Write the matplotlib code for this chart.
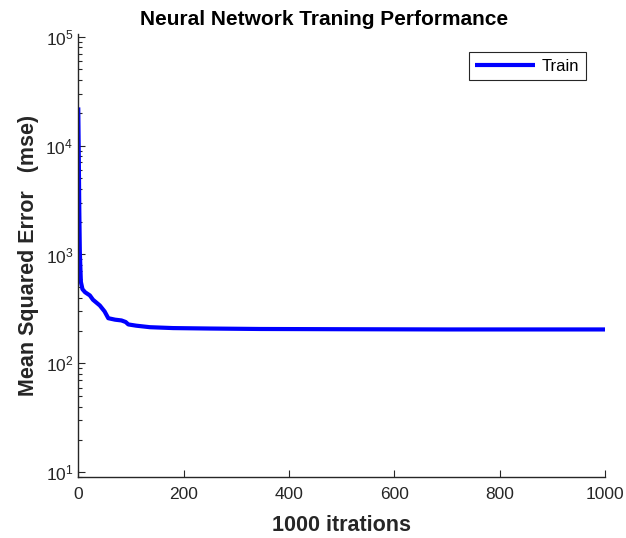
import numpy as np
import matplotlib
matplotlib.use('Agg')
from matplotlib import pyplot as plt
from matplotlib.ticker import LogLocator, FixedLocator

# training curve
iterations = [0, 1, 2, 3, 5, 8, 13, 22, 28, 41, 50, 57, 70, 82, 90, 95, 110, 136, 180, 250, 345, 500, 700, 1000]
mse = [22400, 8000, 2500, 1050, 560, 480, 450, 421, 384, 340, 300, 260, 252, 248, 240, 228, 222, 215, 211, 209, 207, 206, 205, 205]

title = 'Neural Network Traning Performance'
xlabel = '1000 itrations'
ylabel = 'Mean Squared Error   (mse)'
xticks = [0, 200, 400, 600, 800, 1000]

plt.rcParams['font.family'] = ['Liberation Sans', 'DejaVu Sans']
plt.rcParams['mathtext.fontset'] = 'custom'
plt.rcParams['mathtext.rm'] = 'Liberation Sans'

fig = plt.figure(figsize=(6.26, 5.38), dpi=100)
ax = fig.add_axes([0.125, 0.1128, 0.8415, 0.8234])

ax.plot(iterations, mse, color='#0000ff', lw=3, label='Train', solid_capstyle='butt')

ax.set_yscale('log')
ax.set_xlim(0, 1000)
ax.set_ylim(9, 1.05e5)
ax.xaxis.set_major_locator(FixedLocator(xticks))
ax.yaxis.set_major_locator(LogLocator(base=10, numticks=10))
ax.yaxis.set_minor_locator(LogLocator(base=10, subs=np.arange(2, 10), numticks=20))

grey = '#262626'
for side in ['top', 'right']:
    ax.spines[side].set_visible(False)
for side in ['left', 'bottom']:
    ax.spines[side].set_color(grey)
    ax.spines[side].set_linewidth(1.0)
ax.tick_params(which='both', direction='in', colors=grey, labelsize=12.5)
ax.tick_params(which='major', length=5, width=0.8)
ax.tick_params(which='minor', length=3, width=0.8)
ax.tick_params(axis='x', pad=7)

ax.set_title(title, fontsize=15, fontweight='bold', color='black', pad=7, x=0.466)
ax.set_xlabel(xlabel, fontsize=15.5, fontweight='bold', color=grey, labelpad=9)
ax.set_ylabel(ylabel, fontsize=15.5, fontweight='bold', color=grey, labelpad=5)

leg = ax.legend(loc='upper right', bbox_to_anchor=(0.964, 0.96), borderaxespad=0,
                fontsize=12, fancybox=False, framealpha=1, edgecolor=grey,
                handlelength=3.6, borderpad=0.4, handletextpad=0.4)
leg.get_frame().set_linewidth(0.8)

plt.savefig('out.png', dpi=100)
